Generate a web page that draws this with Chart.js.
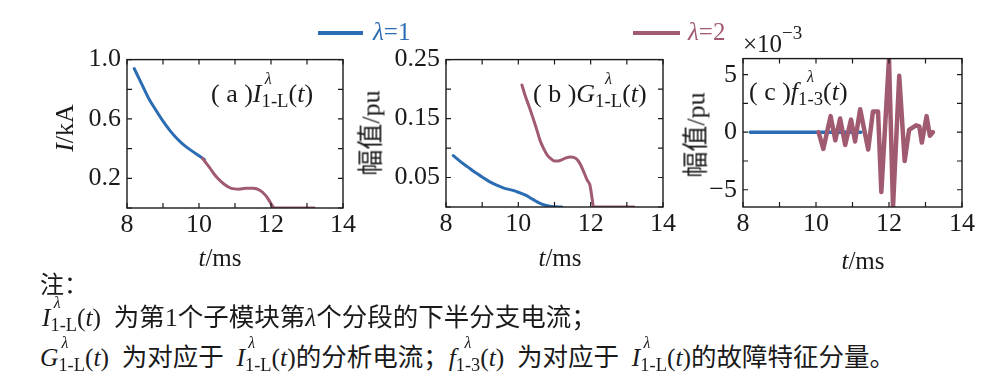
<!DOCTYPE html>
<html><head><meta charset="utf-8">
<script src="https://cdn.jsdelivr.net/npm/chart.js@4"></script>
<style>
html,body{margin:0;padding:0;background:#fff;}
body{width:1003px;height:384px;position:relative;overflow:hidden;font-family:"Liberation Serif","Noto Sans CJK SC",serif;color:#1a1a1a;}
canvas{position:absolute;}
.t{position:absolute;white-space:nowrap;line-height:1;}
.c{transform:translate(-50%,-50%);}
.r{transform:translate(-50%,-50%) rotate(-90deg);}
.ss{position:relative;display:inline-block;}
.sb{font-size:0.72em;position:relative;top:0.28em;font-style:normal;}
.sp{position:absolute;top:-0.62em;font-size:0.62em;font-style:italic;}
.spl{left:0.2em;}
.spc{left:50%;transform:translateX(-50%);}
.cjk{font-family:"Noto Sans CJK SC",sans-serif;}
</style></head>
<body>
<canvas id="ca" width="306" height="210" style="left:57px;top:38px"></canvas>
<canvas id="cb" width="307" height="209" style="left:376px;top:38px"></canvas>
<canvas id="cc" width="309" height="210" style="left:673px;top:37px"></canvas>

<div class="t" style="left:318px;top:31px;width:45px;height:4px;background:#2b6db3"></div>
<div class="t" style="left:373px;top:19px;font-size:25px;color:#2b6db3"><i>λ</i>=1</div>
<div class="t" style="left:633px;top:31px;width:47px;height:4px;background:#a15b70"></div>
<div class="t" style="left:688px;top:19px;font-size:25px;color:#a15b70"><i>λ</i>=2</div>
<div class="t" style="left:743px;top:31px;font-size:25px">×10<span style="font-size:19px;position:relative;top:-13px">−3</span></div>

<div class="t r" style="left:65px;top:128px;font-size:26px"><i>I</i>/kA</div>
<div class="t r" style="left:370px;top:133px;font-size:26px"><span class="cjk">幅值</span>/pu</div>
<div class="t r" style="left:695px;top:135px;font-size:26px"><span class="cjk">幅值</span>/pu</div>

<div class="t c" style="left:220px;top:257px;font-size:25px"><i>t</i>/ms</div>
<div class="t c" style="left:560px;top:257px;font-size:25px"><i>t</i>/ms</div>
<div class="t c" style="left:863px;top:260px;font-size:25px"><i>t</i>/ms</div>

<div class="t" style="left:211px;top:81px;font-size:26px">(&nbsp;a&nbsp;)<i>I</i><span class="ss"><span class="sp spl">λ</span><span class="sb">1-L</span></span>(<i>t</i>)</div>
<div class="t" style="left:533px;top:81px;font-size:26px">(&nbsp;b&nbsp;)<i>G</i><span class="ss"><span class="sp spc">λ</span><span class="sb">1-L</span></span>(<i>t</i>)</div>
<div class="t" style="left:749px;top:79px;font-size:26px">(&nbsp;c&nbsp;)<i>f</i><span class="ss"><span class="sp spc">λ</span><span class="sb">1-3</span></span>(<i>t</i>)</div>

<div class="t" style="left:40px;top:271px;font-size:24px"><span class="cjk">注：</span></div>
<div class="t" style="left:42px;top:302px;font-size:25.5px"><i>I</i><span class="ss"><span class="sp spl">λ</span><span class="sb">1-L</span></span>(<i>t</i>)&nbsp; <span class="cjk">为第</span>1<span class="cjk">个子模块第</span><i>λ</i><span class="cjk">个分段的下半分支电流；</span></div>
<div class="t" style="left:40px;top:342px;font-size:25.5px"><i>G</i><span class="ss"><span class="sp spl">λ</span><span class="sb">1-L</span></span>(<i>t</i>)&nbsp; <span class="cjk">为对应于</span>&nbsp; <i>I</i><span class="ss"><span class="sp spl">λ</span><span class="sb">1-L</span></span>(<i>t</i>)<span class="cjk">的分析电流；</span><i>f</i><span class="ss"><span class="sp spc">λ</span><span class="sb">1-3</span></span>(<i>t</i>)&nbsp; <span class="cjk">为对应于</span>&nbsp; <i>I</i><span class="ss"><span class="sp spl">λ</span><span class="sb">1-L</span></span>(<i>t</i>)<span class="cjk">的故障特征分量。</span></div>

<script>
// ---- data ----
const xTickMarks = [8, 9, 10, 11, 12, 13, 14];
const xTickLabels = [8, 10, 12, 14];

const aTickMarks = [0, 0.2, 0.4, 0.6, 0.8, 1.0];
const aTickLabels = [0.2, 0.6, 1.0];
const bTickMarks = [0, 0.05, 0.1, 0.15, 0.2, 0.25];
const bTickLabels = [0.05, 0.15, 0.25];
const cTickMarks = [-5, -2.5, 0, 2.5, 5];
const cTickLabels = [-5, 0, 5];

// (a) I_1-L
const aBlueT = [8.2, 8.4, 8.6, 8.8, 9.0, 9.2, 9.4, 9.6, 9.8, 10.0, 10.15];
const aBlueV = [0.94, 0.84, 0.74, 0.66, 0.585, 0.52, 0.465, 0.42, 0.385, 0.352, 0.327];
const aRedT = [10.1, 10.3, 10.5, 10.7, 10.9, 11.1, 11.3, 11.5, 11.7, 11.85, 11.95, 12.05, 12.1, 12.6, 13.2];
const aRedV = [0.335, 0.27, 0.205, 0.16, 0.132, 0.127, 0.133, 0.133, 0.118, 0.085, 0.05, 0.01, 0, 0, 0];

// (b) G_1-L
const bBlueT = [8.2, 8.4, 8.6, 8.8, 9.0, 9.2, 9.4, 9.6, 9.8, 10.0, 10.2, 10.4, 10.6, 10.8, 11.0, 11.2];
const bBlueV = [0.087, 0.077, 0.068, 0.059, 0.051, 0.043, 0.037, 0.032, 0.029, 0.025, 0.020, 0.013, 0.006, 0.002, 0.0005, 0];
const bRedT = [10.1, 10.2, 10.3, 10.4, 10.5, 10.6, 10.7, 10.8, 10.9, 11.0, 11.1, 11.2, 11.3, 11.45, 11.6, 11.7, 11.8, 11.9, 11.98, 12.05, 12.08, 12.6, 13.2];
const bRedV = [0.207, 0.187, 0.17, 0.152, 0.133, 0.113, 0.099, 0.088, 0.082, 0.078, 0.078, 0.080, 0.083, 0.085, 0.082, 0.074, 0.061, 0.046, 0.037, 0.01, 0, 0, 0];

// (c) f_1-3 (x1e-3)
const cBlueT = [8.2, 8.6, 9.0, 9.4, 9.8, 10.2, 10.6, 11.0, 11.23];
const cBlueV = [0, 0, 0, 0, 0, 0, 0, 0, 0];
const cRedT = [10.07, 10.2, 10.4, 10.53, 10.66, 10.8, 10.96, 11.07, 11.21, 11.43, 11.56, 11.7, 11.79, 12.0, 12.11, 12.28, 12.43, 12.55, 12.74, 12.83, 12.9, 13.03, 13.12, 13.2];
const cRedV = [0.0, -1.45, 1.4, -0.7, 1.2, -1.1, 1.1, -0.8, 2.0, -1.5, 1.8, 1.8, -5.2, 6.4, -6.5, 4.9, -2.5, 0.2, 0.6, 0.5, -0.9, 1.4, -0.3, 0.0];

const BLUE = '#2b6db3';
const RED = '#a15b70';
const INK = '#1a1a1a';

function pts(t, v) { return t.map((x, i) => ({ x: x, y: v[i] })); }

const framePlugin = {
  id: 'frame',
  afterDraw(chart, args, opts) {
    const ctx = chart.ctx, a = chart.chartArea;
    const xs = chart.scales.x, ys = chart.scales.y;
    const L = 5;
    ctx.save();
    ctx.strokeStyle = INK;
    ctx.lineWidth = 1.4;
    ctx.strokeRect(a.left, a.top, a.right - a.left, a.bottom - a.top);
    ctx.lineWidth = 1.2;
    ctx.beginPath();
    opts.xMarks.forEach(v => {
      const p = xs.getPixelForValue(v);
      ctx.moveTo(p, a.bottom); ctx.lineTo(p, a.bottom - L);
      ctx.moveTo(p, a.top); ctx.lineTo(p, a.top + L);
    });
    opts.yMarks.forEach(v => {
      const p = ys.getPixelForValue(v);
      ctx.moveTo(a.left, p); ctx.lineTo(a.left + L, p);
      ctx.moveTo(a.right, p); ctx.lineTo(a.right - L, p);
    });
    ctx.stroke();
    ctx.restore();
  }
};

function makePanel(id, ymin, ymax, yMarks, yLabels, yFmt, series, smooth) {
  const font = { family: 'Liberation Serif', size: 26 };
  new Chart(document.getElementById(id), {
    type: 'scatter',
    data: {
      datasets: series.map(s => ({
        data: pts(s.t, s.v),
        showLine: true,
        borderColor: s.color,
        backgroundColor: s.color,
        borderWidth: s.w,
        pointRadius: 0,
        order: s.order,
        cubicInterpolationMode: smooth ? 'monotone' : 'default',
        tension: 0,
        borderCapStyle: 'round',
        borderJoinStyle: 'round'
      }))
    },
    options: {
      responsive: false,
      animation: false,
      layout: { padding: { top: 16, right: 20, left: 0, bottom: 0 } },
      plugins: { legend: { display: false }, tooltip: { enabled: false },
        frame: { xMarks: xTickMarks, yMarks: yMarks } },
      scales: {
        x: {
          type: 'linear', min: 8, max: 14,
          afterBuildTicks: s => { s.ticks = xTickMarks.map(v => ({ value: v })); },
          afterFit: s => { s.height = 40; },
          grid: { display: false, drawTicks: false }, border: { display: false },
          ticks: { font: font, color: INK, padding: 2, maxRotation: 0, autoSkip: false,
            callback: v => xTickLabels.includes(v) ? String(v) : '' }
        },
        y: {
          type: 'linear', min: ymin, max: ymax,
          afterBuildTicks: s => { s.ticks = yMarks.map(v => ({ value: v })); },
          afterFit: s => { s.width = 70; },
          grid: { display: false, drawTicks: false }, border: { display: false },
          ticks: { font: font, color: INK, padding: 6, autoSkip: false,
            callback: v => yLabels.some(l => Math.abs(l - v) < 1e-9) ? yFmt(v) : '' }
        }
      }
    },
    plugins: [framePlugin]
  });
}

makePanel('ca', 0, 1.0, aTickMarks, aTickLabels, v => v.toFixed(1), [
  { t: aBlueT, v: aBlueV, color: BLUE, w: 3, order: 1 },
  { t: aRedT, v: aRedV, color: RED, w: 3, order: 0 }
], true);
makePanel('cb', 0, 0.25, bTickMarks, bTickLabels, v => v.toFixed(2), [
  { t: bBlueT, v: bBlueV, color: BLUE, w: 3, order: 1 },
  { t: bRedT, v: bRedV, color: RED, w: 3, order: 0 }
], true);
makePanel('cc', -6.5, 6.4, cTickMarks, cTickLabels, v => (v < 0 ? '−' + Math.abs(v) : String(v)), [
  { t: cBlueT, v: cBlueV, color: BLUE, w: 3.5, order: 1 },
  { t: cRedT, v: cRedV, color: RED, w: 4.5, order: 0 }
], false);
</script>
</body></html>
